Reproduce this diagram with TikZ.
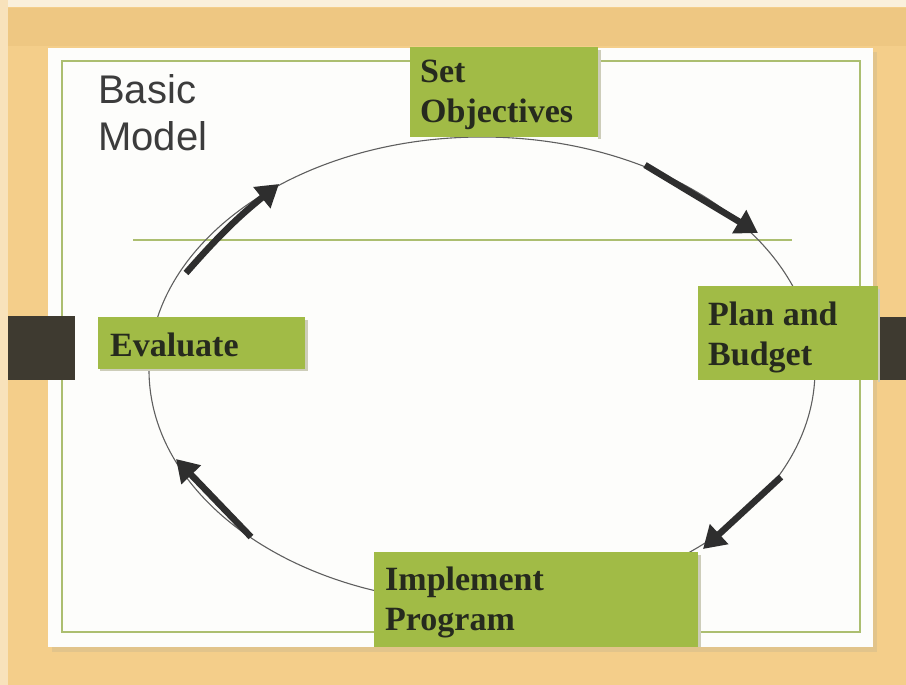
\documentclass[tikz,border=0pt]{standalone}
\usepackage{fontspec}
\setmainfont{Liberation Serif}
\newfontfamily\labelsans{Liberation Sans}
\usetikzlibrary{arrows.meta}

\definecolor{woodtan}{RGB}{244,206,138}
\definecolor{woodtop}{RGB}{238,199,130}
\definecolor{paleedge}{RGB}{250,240,220}
\definecolor{cardwhite}{RGB}{253,253,251}
\definecolor{cardshade}{RGB}{214,190,140}
\definecolor{rulegreen}{RGB}{172,190,112}
\definecolor{boxgreen}{RGB}{161,187,70}
\definecolor{boxshade}{RGB}{205,205,185}
\definecolor{inkdark}{RGB}{38,42,30}
\definecolor{titlegray}{RGB}{60,60,60}
\definecolor{tabdark}{RGB}{62,58,48}
\definecolor{arrowdark}{RGB}{46,46,46}
\definecolor{orbitgray}{RGB}{95,95,95}

\tikzset{
  stepbox/.style={fill=boxgreen, draw=none, inner sep=0pt, anchor=north west},
  boxtext/.style={font=\fontsize{34}{39}\selectfont\bfseries, text=inkdark,
                  inner sep=0pt, anchor=base west},
  titletext/.style={font=\labelsans\fontsize{40}{46}\selectfont, text=titlegray,
                  inner sep=0pt, anchor=base west},
  flowarrow/.style={draw=arrowdark, line width=6.5pt,
                  -{Triangle[length=22pt,width=26pt]}},
  orbit/.style={draw=orbitgray, line width=1.1pt},
  tab/.style={fill=tabdark, draw=none}
}

\begin{document}
\begin{tikzpicture}[x=1pt,y=-1pt]
\useasboundingbox (0,0) rectangle (906,685);

% wooden frame
\fill[woodtan] (0,0) rectangle (906,685);
\fill[woodtop] (0,8) rectangle (906,46);
\fill[paleedge] (0,0) rectangle (906,7);
\fill[paleedge!60!woodtan] (0,0) rectangle (8,685);

% card with soft shadow
\fill[cardshade, opacity=0.6] (52,52) rectangle (877,652);
\fill[cardwhite] (48,48) rectangle (873,647);
\draw[rulegreen, line width=2pt] (62,61) rectangle (860,632);

% clips holding the card
\fill[tab] (8,316) rectangle (75,380);
\fill[tab] (880,317) rectangle (906,380);

% divider
\coordinate (divl) at (133,240);
\coordinate (divr) at (792,240);
\draw[rulegreen, line width=2.2pt] (divl) -- (divr);

% cycle path
\draw[orbit] (482,370) ellipse [x radius=333, y radius=233];

% title
\node[titletext] (basic) at (98,104) {Basic};
\node[titletext] (model) at (98,150) {Model};

% stage boxes, each with a faint drop shadow on the right
\fill[boxshade] (598,50) rectangle (601,139);
\node[stepbox, minimum width=188pt, minimum height=90pt] (setbox) at (410,47) {};
\node[boxtext] (set1) at (420,83) {Set};
\node[boxtext] (set2) at (420,122) {Objectives};

\fill[boxshade] (878,289) rectangle (880,382);
\node[stepbox, minimum width=180pt, minimum height=94pt] (planbox) at (698,286) {};
\node[boxtext] (plan1) at (708,325) {Plan and};
\node[boxtext] (plan2) at (708,365) {Budget};

\fill[boxshade] (698,555) rectangle (701,647);
\node[stepbox, minimum width=324pt, minimum height=95pt] (implbox) at (374,552) {};
\node[boxtext] (impl1) at (385,590) {Implement};
\node[boxtext] (impl2) at (385,630) {Program};

\fill[boxshade] (305,320) rectangle (308,371);
\fill[boxshade] (100,369) rectangle (308,371);
\node[stepbox, minimum width=207pt, minimum height=52pt] (evalbox) at (98,317) {};
\node[boxtext] (eval1) at (110,356) {Evaluate};

% direction arrows
\coordinate (a1s) at (645,165);
\coordinate (a1e) at (758,233);
\coordinate (a2s) at (781,477);
\coordinate (a2e) at (703,549);
\coordinate (a3s) at (251,537);
\coordinate (a3e) at (176,459);
\coordinate (a4s) at (186,273);
\coordinate (a4e) at (279,184);
\draw[flowarrow] (a1s) -- (a1e);
\draw[flowarrow] (a2s) -- (a2e);
\draw[flowarrow] (a3s) -- (a3e);
\draw[flowarrow] (a4s) to[bend left=5] (a4e);
\end{tikzpicture}
\end{document}
